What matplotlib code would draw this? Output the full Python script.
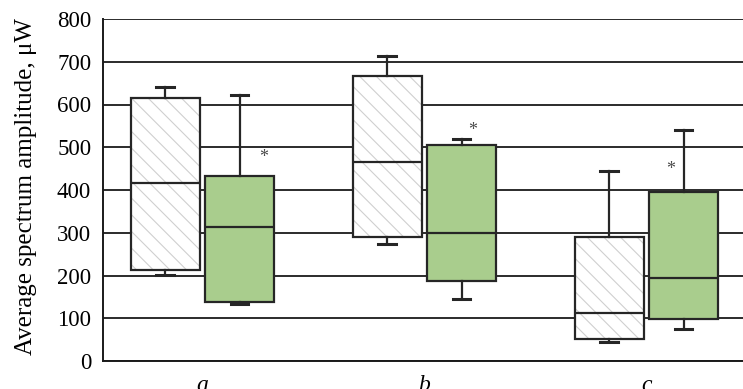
import matplotlib
matplotlib.use("Agg")
import matplotlib.pyplot as plt
from matplotlib.patches import Rectangle

# ---- data ----
groups = ["a", "b", "c"]
ctrl_whislo = [201, 274, 44]
ctrl_q1 = [213, 291, 51]
ctrl_med = [416, 466, 113]
ctrl_q3 = [615, 667, 289]
ctrl_whishi = [642, 713, 445]

trt_whislo = [133, 144, 74]
trt_q1 = [138, 186, 99]
trt_med = [313, 300, 195]
trt_q3 = [433, 505, 396]
trt_whishi = [622, 519, 540]

star_x = [1.277, 2.218, 3.108]
star_y = [477, 540, 449]

yticks = [0, 100, 200, 300, 400, 500, 600, 700, 800]
ylabel = "Average spectrum amplitude, μW"

# ---- style ----
offset = 0.167
width = 0.31
green = "#a9cd8d"
edge = "#262626"
hatch_col = "#cfcfcf"

plt.rcParams["hatch.linewidth"] = 0.8

fig = plt.figure(figsize=(7.43, 3.89), dpi=100)
ax = fig.add_axes([103 / 743, 28 / 389, 640 / 743, 342 / 389])

centers = list(range(1, len(groups) + 1))

def stats(lo, q1, med, q3, hi):
    return [dict(whislo=a, q1=b, med=c, q3=d, whishi=e, fliers=[])
            for a, b, c, d, e in zip(lo, q1, med, q3, hi)]

pos_c = [c - offset for c in centers]
pos_t = [c + offset for c in centers]

# hatched background for control boxes
for p, q1, q3 in zip(pos_c, ctrl_q1, ctrl_q3):
    r = Rectangle((p - width / 2, q1), width, q3 - q1, facecolor="white",
                  edgecolor=hatch_col, linewidth=0, hatch="\\\\", zorder=2)
    ax.add_patch(r)

common = dict(widths=width, patch_artist=True, showfliers=False,
              capwidths=0.08, manage_ticks=False, zorder=3)
lw = 1.6
b1 = ax.bxp(stats(ctrl_whislo, ctrl_q1, ctrl_med, ctrl_q3, ctrl_whishi),
            positions=pos_c,
            boxprops=dict(facecolor="none", edgecolor=edge, linewidth=lw),
            medianprops=dict(color=edge, linewidth=lw),
            whiskerprops=dict(color=edge, linewidth=lw),
            capprops=dict(color=edge, linewidth=2.2), **common)
b2 = ax.bxp(stats(trt_whislo, trt_q1, trt_med, trt_q3, trt_whishi),
            positions=pos_t,
            boxprops=dict(facecolor=green, edgecolor=edge, linewidth=lw),
            medianprops=dict(color=edge, linewidth=lw),
            whiskerprops=dict(color=edge, linewidth=lw),
            capprops=dict(color=edge, linewidth=2.2), **common)

for x, y in zip(star_x, star_y):
    ax.text(x, y, "*", ha="center", va="center", fontsize=13,
            color="#4a4a4a", fontfamily="Liberation Serif", zorder=4)

ax.set_xlim(0.552, 3.435)
ax.set_ylim(0, 800)
ax.set_yticks(yticks)
ax.set_yticklabels([str(v) for v in yticks], fontfamily="Liberation Serif", fontsize=16.5)
ax.set_xticks(centers)
ax.set_xticklabels(groups, fontfamily="Liberation Serif", fontstyle="italic", fontsize=17)
ax.tick_params(axis="both", length=0)
ax.tick_params(axis="y", pad=8.5)
ax.tick_params(axis="x", pad=10)
ax.yaxis.grid(True, color="#1a1a1a", linewidth=1.3, zorder=0)
ax.set_axisbelow(True)
for s in ["top", "right"]:
    ax.spines[s].set_visible(False)
for s in ["left", "bottom"]:
    ax.spines[s].set_color("#1a1a1a")
    ax.spines[s].set_linewidth(1.4)
ax.set_ylabel(ylabel, fontfamily="Liberation Serif", fontsize=18)
ax.yaxis.set_label_coords(-0.103, 0.51)

fig.savefig("out.png", dpi=100)
